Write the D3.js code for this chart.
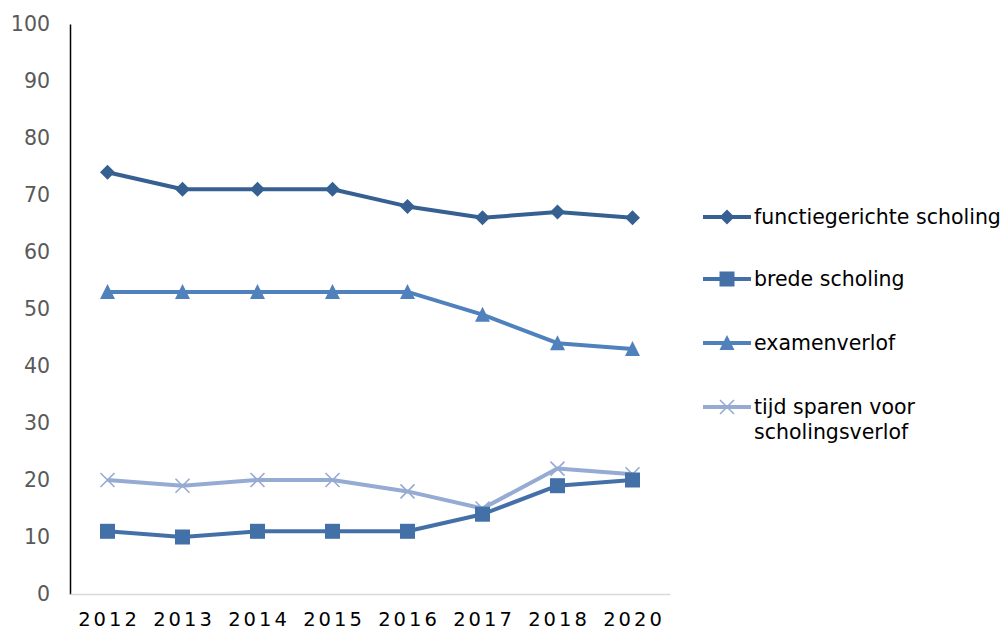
<!DOCTYPE html>
<html><head><meta charset="utf-8">
<script src="https://cdn.jsdelivr.net/npm/d3@7"></script>
<style>body{margin:0;background:#fff}svg{display:block}</style>
</head><body>
<svg id="c" width="1003" height="631"></svg>
<script>
const years = ["2012","2013","2014","2015","2016","2017","2018","2020"];
const functiegericht = [74,71,71,71,68,66,67,66];
const bredeScholing = [11,10,11,11,11,14,19,20];
const examenverlof = [53,53,53,53,53,49,44,43];
const tijdSparen = [20,19,20,20,18,15,22,21];
const yTicks = [0,10,20,30,40,50,60,70,80,90,100];
const seriesNames = ["functiegerichte scholing","brede scholing","examenverlof","tijd sparen voor scholingsverlof"];

const series = [
  {name:seriesNames[0], values:functiegericht, color:"#376092", sym:"diamond"},
  {name:seriesNames[1], values:bredeScholing, color:"#4470a8", sym:"square"},
  {name:seriesNames[2], values:examenverlof, color:"#4f81bd", sym:"triangle"},
  {name:seriesNames[3], values:tijdSparen, color:"#95abd3", sym:"cross"}
];

const FONT = "'DejaVu Sans', Verdana, sans-serif";
const svg = d3.select("#c");
const x = d3.scaleBand().domain(years).range([70,670]);
const y = d3.scaleLinear().domain([0,100]).range([594,24]);

// y axis
const ya = svg.append("g").attr("transform","translate(70,0)")
  .call(d3.axisLeft(y).tickValues(yTicks).tickSize(0).tickPadding(20));
ya.select(".domain").attr("stroke","#000").attr("stroke-width",1.5);
ya.selectAll("text").attr("font-family",FONT).attr("font-size",20.5).attr("fill","#595959");

// x axis
const xa = svg.append("g").attr("transform","translate(0,594)")
  .call(d3.axisBottom(x).tickSize(0).tickPadding(18));
xa.select(".domain").attr("stroke","#d9d9d9").attr("stroke-width",1.5);
xa.selectAll("text").attr("font-family",FONT).attr("font-size",19.5).attr("fill","#000").attr("letter-spacing","3px").attr("dx","1.5px");

const cx = (d,i)=> x(years[i]) + x.bandwidth()/2;
const line = d3.line().x((d,i)=>cx(d,i)).y(d=>y(d));

function marker(g, sym, color, px, py){
  if(sym==="diamond"){
    g.append("path").attr("d",`M${px},${py-7.5}L${px+7.5},${py}L${px},${py+7.5}L${px-7.5},${py}Z`).attr("fill",color);
  } else if(sym==="square"){
    g.append("rect").attr("x",px-7.5).attr("y",py-7.5).attr("width",15).attr("height",15).attr("fill",color);
  } else if(sym==="triangle"){
    g.append("path").attr("d",`M${px},${py-8}L${px+7.5},${py+7}L${px-7.5},${py+7}Z`).attr("fill",color);
  } else {
    g.append("path").attr("d",`M${px-7},${py-7}L${px+7},${py+7}M${px+7},${py-7}L${px-7},${py+7}`).attr("stroke",color).attr("stroke-width",1.6).attr("fill","none");
  }
}

// draw in reverse order so first series is on top
[...series].reverse().forEach(s=>{
  const g = svg.append("g");
  g.append("path").datum(s.values).attr("d",line).attr("fill","none").attr("stroke",s.color).attr("stroke-width",4).attr("stroke-linejoin","round");
  s.values.forEach((v,i)=> marker(g, s.sym, s.color, cx(v,i), y(v)));
});

// legend
const ly = [217,279,343,407];
series.forEach((s,i)=>{
  const g = svg.append("g");
  g.append("line").attr("x1",703).attr("x2",751).attr("y1",ly[i]).attr("y2",ly[i]).attr("stroke",s.color).attr("stroke-width",4);
  marker(g, s.sym, s.color, 727, ly[i]);
  const t = g.append("text").attr("x",754).attr("y",ly[i]).attr("dy","0.35em")
    .attr("font-family",FONT).attr("font-size",20.5).attr("fill","#000");
  if(i===3){
    t.append("tspan").attr("x",754).text("tijd sparen voor");
    t.append("tspan").attr("x",754).attr("dy",25).text("scholingsverlof");
  } else t.text(s.name);
});
</script>
</body></html>
